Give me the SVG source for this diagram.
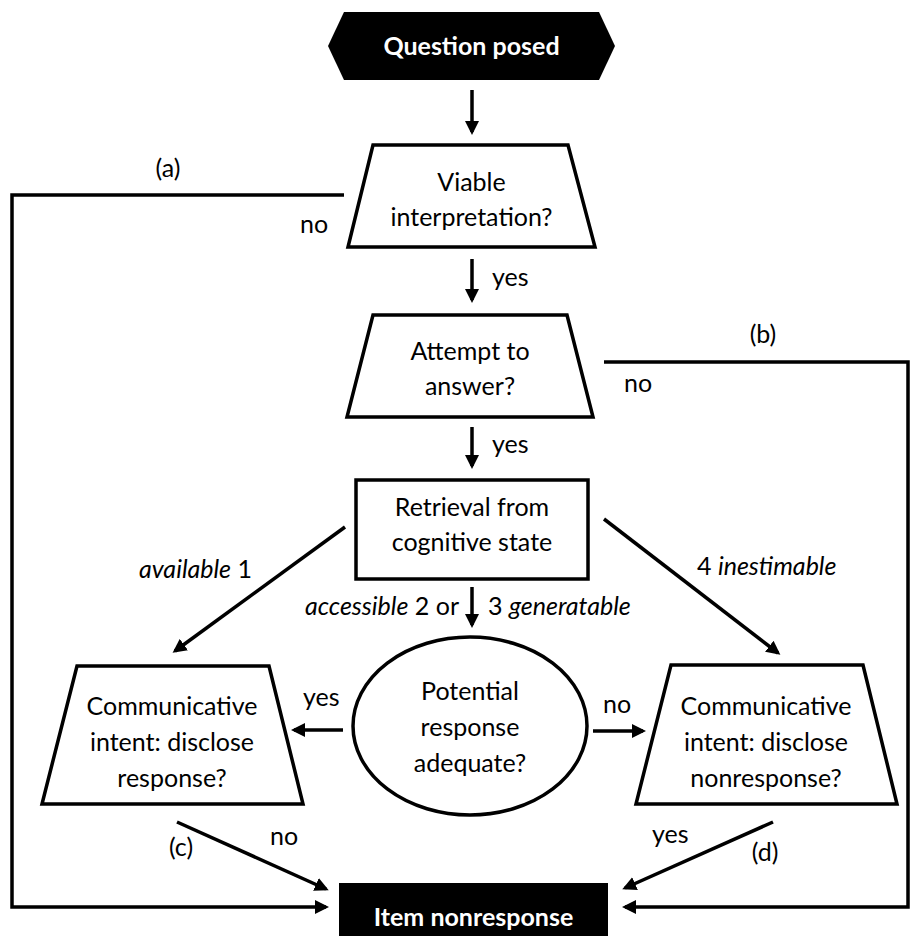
<svg xmlns="http://www.w3.org/2000/svg" width="910" height="936" viewBox="0 0 910 936">
<style>
text{font-family:Lato,"Open Sans","Liberation Sans",sans-serif;font-size:25px;fill:#000}
.c{text-anchor:middle}
.b{font-weight:bold;fill:#fff}
.i{font-style:italic}
.shape{fill:#fff;stroke:#000;stroke-width:3.5}
.blk{fill:#000}
.ln{fill:none;stroke:#000;stroke-width:3.5;marker-end:url(#ah)}
.pl{fill:none;stroke:#000;stroke-width:3.5}
</style>
<defs>
<marker id="ah" viewBox="0 0 14 14" refX="11" refY="7" markerWidth="14" markerHeight="14" markerUnits="userSpaceOnUse" orient="auto"><path d="M0,0 L14,7 L0,14 z" fill="#000"/></marker>
</defs>
<rect width="910" height="936" fill="#fff"/>
<g id="connectors">
<line class="ln" x1="472" y1="90" x2="472" y2="132"/>
<line class="ln" x1="472" y1="259" x2="472" y2="300"/>
<line class="ln" x1="472" y1="427" x2="472" y2="466"/>
<line class="ln" x1="472" y1="587" x2="472" y2="625"/>
<line class="ln" x1="345" y1="527" x2="175" y2="651"/>
<line class="ln" x1="604" y1="519" x2="778" y2="653"/>
<line class="ln" x1="343" y1="730" x2="294" y2="730"/>
<line class="ln" x1="593" y1="731" x2="643" y2="731"/>
<line class="ln" x1="177" y1="822" x2="326" y2="889"/>
<line class="ln" x1="773" y1="822" x2="625" y2="888"/>
<polyline class="ln" points="344,195 12,195 12,907 326,907"/>
<polyline class="ln" points="604,362 908,362 908,907 625,907"/>
<text x="168" y="177" class="c">(a)</text>
<text x="300" y="233">no</text>
<text x="492" y="286">yes</text>
<text x="763" y="343" class="c">(b)</text>
<text x="624" y="392">no</text>
<text x="492" y="453">yes</text>
<text x="252" y="578" text-anchor="end"><tspan class="i">available</tspan> 1</text>
<text x="697" y="575"><tspan>4 </tspan><tspan class="i">inestimable</tspan></text>
<text x="459" y="615" text-anchor="end"><tspan class="i">accessible</tspan> 2 or</text>
<text x="488" y="615">3 <tspan class="i">generatable</tspan></text>
<text x="303" y="706">yes</text>
<text x="603" y="713">no</text>
<text x="181" y="856" class="c">(c)</text>
<text x="270" y="845">no</text>
<text x="652" y="843">yes</text>
<text x="765" y="861" class="c">(d)</text>
</g>
<g id="question-posed">
<polygon class="blk" points="328,46 344,12 599,12 615,46 599,80 344,80"/>
<text x="471.5" y="55" class="c b">Question posed</text>
</g>
<g id="viable">
<polygon class="shape" points="373,145 568,145 595,247 348,247"/>
<text x="471.5" y="191" class="c">Viable</text>
<text x="471.5" y="226" class="c">interpretation?</text>
</g>
<g id="attempt">
<polygon class="shape" points="373,315 567,315 593,417 347,417"/>
<text x="470" y="360" class="c">Attempt to</text>
<text x="470" y="395" class="c">answer?</text>
</g>
<g id="retrieval">
<rect class="shape" x="356" y="480" width="232" height="99"/>
<text x="472" y="516" class="c">Retrieval from</text>
<text x="472" y="551" class="c">cognitive state</text>
</g>
<g id="potential">
<ellipse class="shape" cx="470" cy="726" rx="117" ry="89"/>
<text x="470" y="700" class="c">Potential</text>
<text x="470" y="736" class="c">response</text>
<text x="470" y="772" class="c">adequate?</text>
</g>
<g id="disclose-response">
<polygon class="shape" points="77,666 269,666 303,804 42,804"/>
<text x="172" y="715" class="c">Communicative</text>
<text x="172" y="751" class="c">intent: disclose</text>
<text x="172" y="787" class="c">response?</text>
</g>
<g id="disclose-nonresponse">
<polygon class="shape" points="671,665 863,665 897,804 636,804"/>
<text x="766" y="715" class="c">Communicative</text>
<text x="766" y="751" class="c">intent: disclose</text>
<text x="766" y="787" class="c">nonresponse?</text>
</g>
<g id="item-nonresponse">
<rect class="blk" x="339" y="883" width="269" height="60"/>
<text x="473.5" y="926" class="c b">Item nonresponse</text>
</g>
</svg>
